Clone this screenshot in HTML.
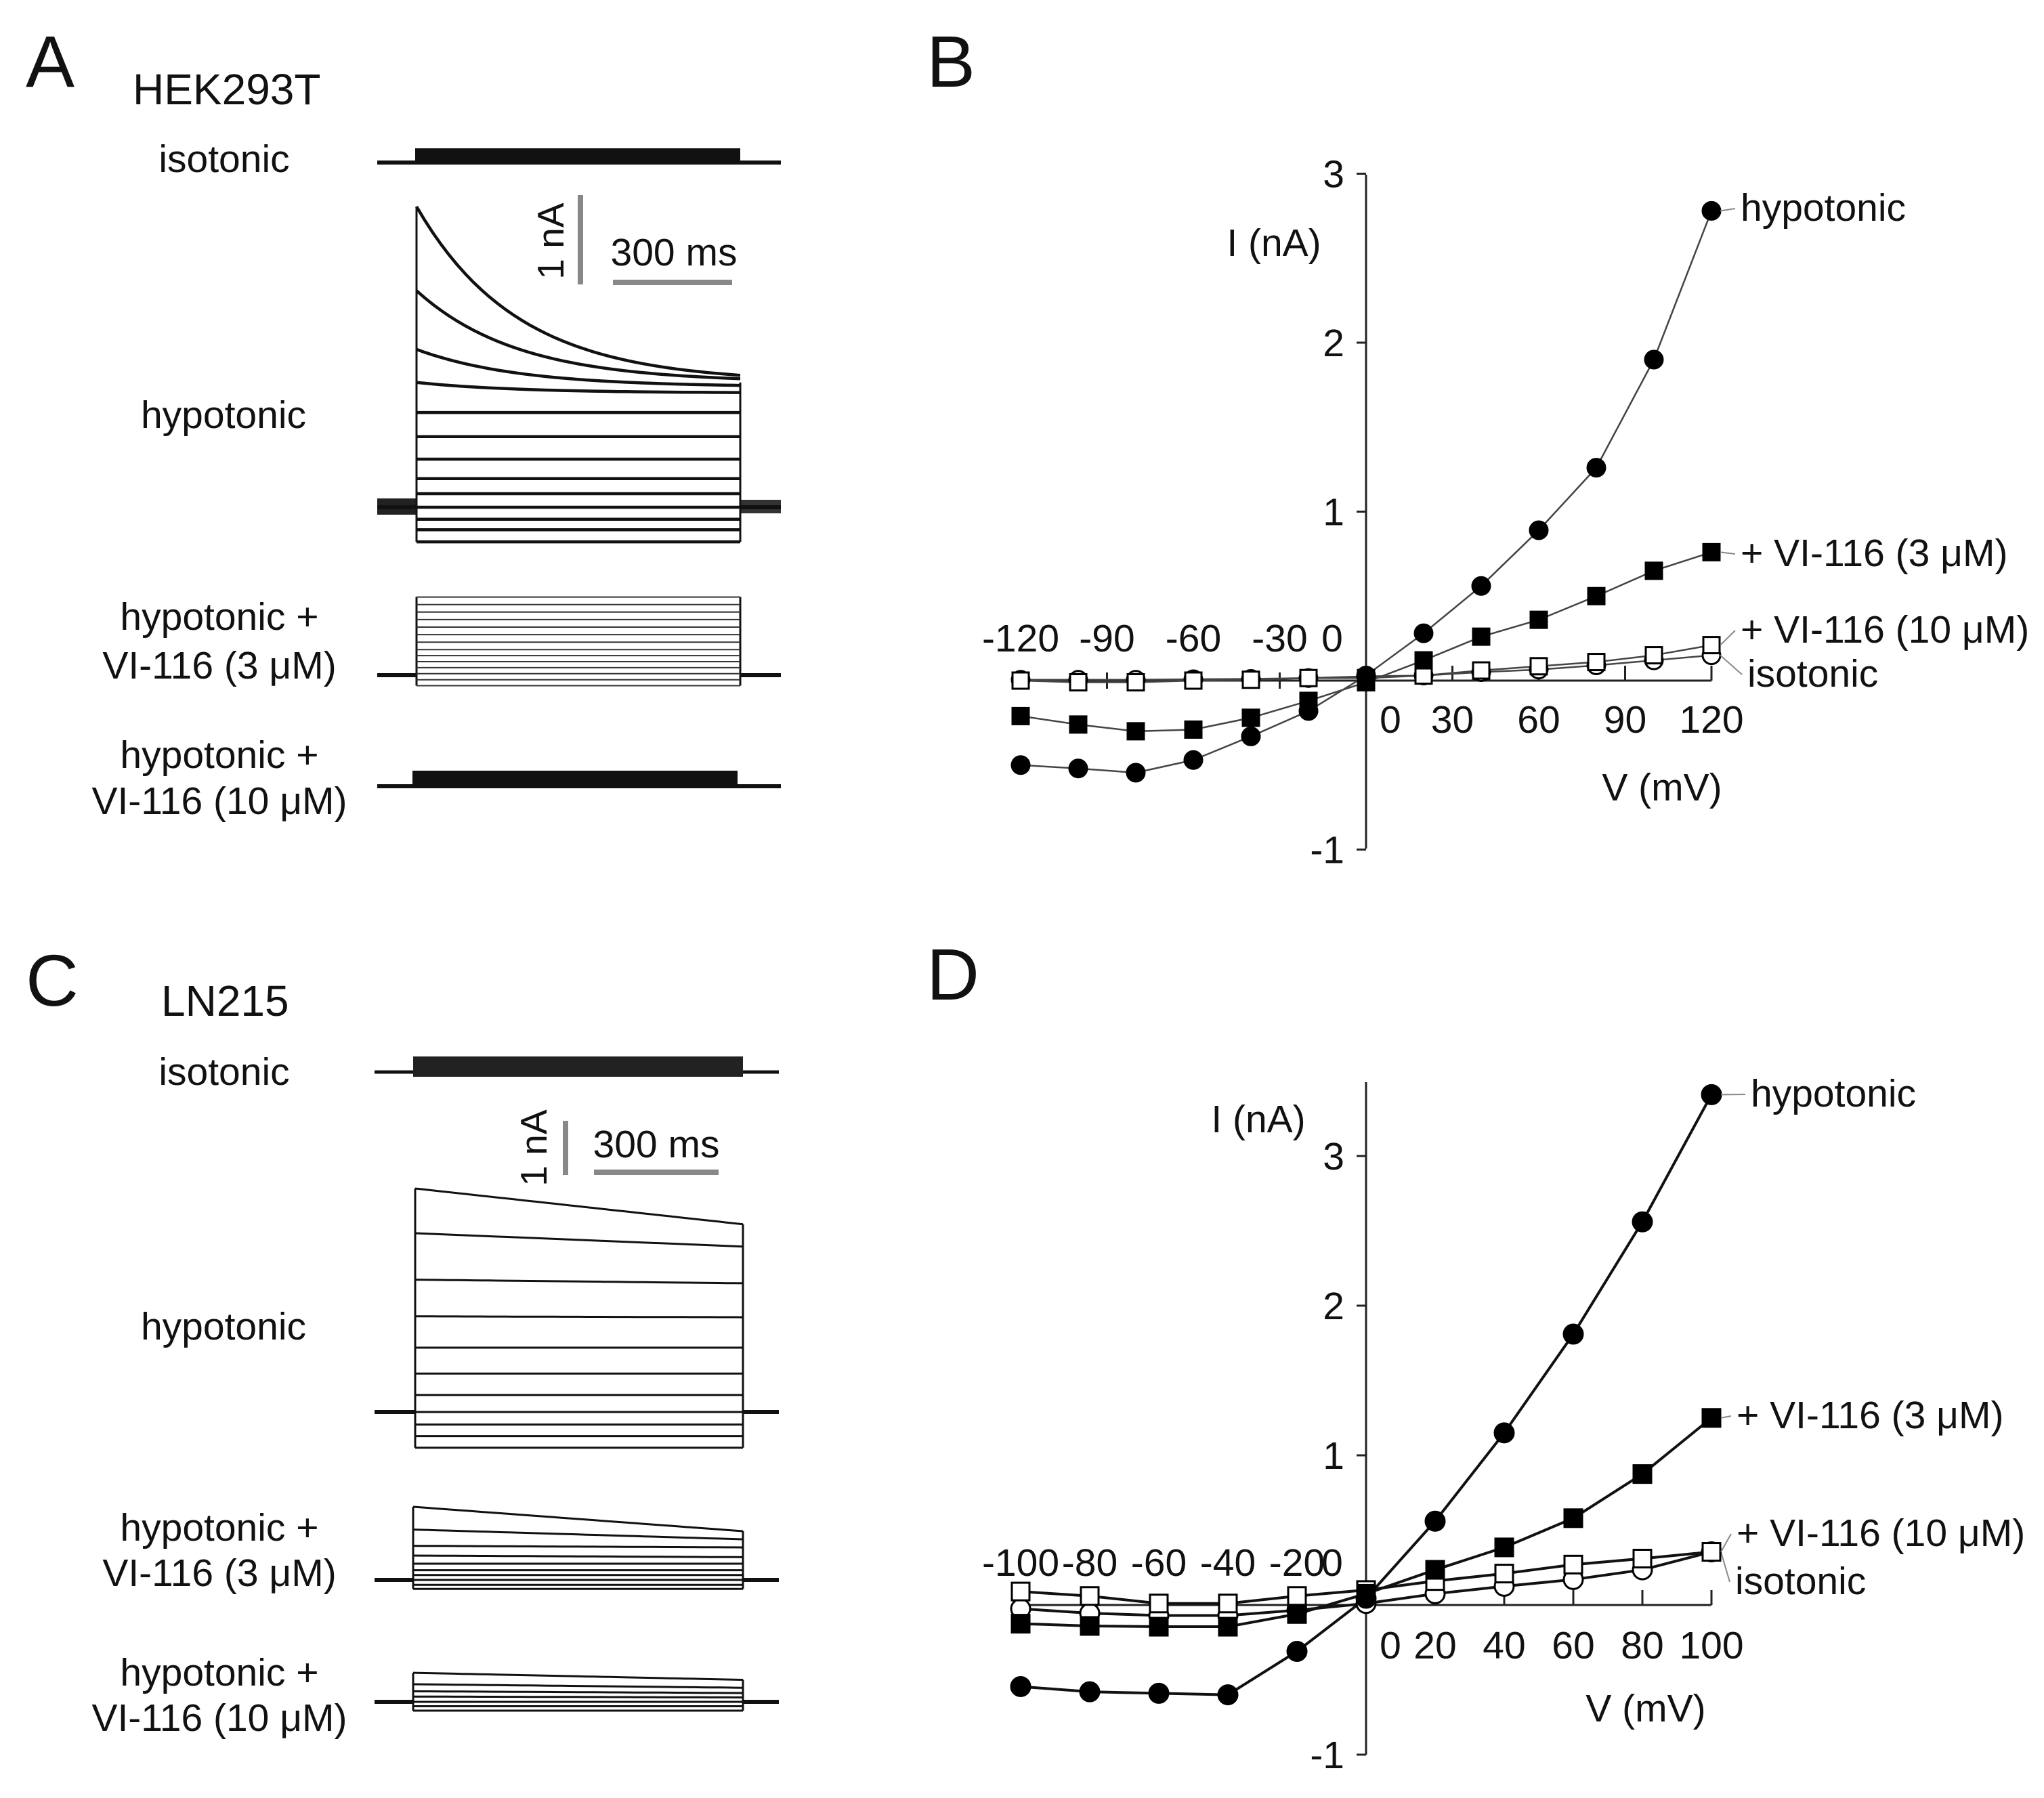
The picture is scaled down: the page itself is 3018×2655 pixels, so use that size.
<!DOCTYPE html>
<html><head><meta charset="utf-8"><style>
html,body{margin:0;padding:0;background:#fff}
svg{display:block}
text{font-family:"Liberation Sans",Arial,sans-serif;fill:#111}
</style></head><body>
<svg id="fig" width="3018" height="2655" viewBox="0 0 3018 2655" xmlns="http://www.w3.org/2000/svg">
<g id="panelA">
<text x="38" y="128" font-size="108">A</text>
<text x="196" y="154" font-size="64">HEK293T</text>
<text x="331" y="254" font-size="57" text-anchor="middle">isotonic</text>
<text x="330" y="632" font-size="57" text-anchor="middle">hypotonic</text>
<text x="324" y="930" font-size="57" text-anchor="middle">hypotonic +</text>
<text x="324" y="1002" font-size="57" text-anchor="middle">VI-116 (3 μM)</text>
<text x="324" y="1134" font-size="57" text-anchor="middle">hypotonic +</text>
<text x="324" y="1202" font-size="57" text-anchor="middle">VI-116 (10 μM)</text>
<line x1="857" y1="288" x2="857" y2="420" stroke="#888" stroke-width="8"/>
<line x1="905" y1="417" x2="1081" y2="417" stroke="#888" stroke-width="8"/>
<text x="0" y="0" font-size="55" text-anchor="middle" transform="translate(832,356) rotate(-90)">1 nA</text>
<text x="995" y="392" font-size="57" text-anchor="middle">300 ms</text>
</g>
<g id="panelC">
<text x="38" y="1485" font-size="108">C</text>
<text x="238" y="1500" font-size="64">LN215</text>
<text x="331" y="1602" font-size="57" text-anchor="middle">isotonic</text>
<text x="330" y="1978" font-size="57" text-anchor="middle">hypotonic</text>
<text x="324" y="2275" font-size="57" text-anchor="middle">hypotonic +</text>
<text x="324" y="2342" font-size="57" text-anchor="middle">VI-116 (3 μM)</text>
<text x="324" y="2489" font-size="57" text-anchor="middle">hypotonic +</text>
<text x="324" y="2556" font-size="57" text-anchor="middle">VI-116 (10 μM)</text>
<line x1="835" y1="1655" x2="835" y2="1735" stroke="#888" stroke-width="8"/>
<line x1="877" y1="1731" x2="1061" y2="1731" stroke="#888" stroke-width="8"/>
<text x="0" y="0" font-size="55" text-anchor="middle" transform="translate(807,1695) rotate(-90)">1 nA</text>
<text x="969" y="1709" font-size="57" text-anchor="middle">300 ms</text>
</g>
<g id="panelB">
<text x="1368" y="128" font-size="108">B</text>
</g>
<g id="panelD">
<text x="1368" y="1476" font-size="108">D</text>
</g>
</svg>
<script>
// ---------- Panel B data (HEK293T) ----------
const voltsB = [-120,-100,-80,-60,-40,-20,0,20,40,60,80,100,120];
const hypoB = [-0.50,-0.52,-0.545,-0.47,-0.33,-0.18,0.03,0.28,0.56,0.89,1.26,1.90,2.78];
const vi3B = [-0.21,-0.26,-0.30,-0.29,-0.22,-0.12,-0.01,0.12,0.26,0.36,0.50,0.65,0.76];
const vi10B = [0,-0.01,-0.01,0,0.005,0.015,0.015,0.03,0.06,0.085,0.11,0.15,0.21];
const isoB = [0.005,0.005,0.005,0.008,0.01,0.015,0.025,0.03,0.05,0.065,0.09,0.12,0.15];
const xTickNegB = [-120,-90,-60,-30];
const xTickPosB = [30,60,90,120];
const yTicksB = [3,2,1,-1];
// ---------- Panel D data (LN215) ----------
const voltsD = [-100,-80,-60,-40,-20,0,20,40,60,80,100];
const hypoD = [-0.545,-0.58,-0.59,-0.60,-0.31,0.045,0.56,1.15,1.81,2.56,3.41];
const vi3D = [-0.125,-0.14,-0.145,-0.145,-0.06,0.075,0.235,0.385,0.58,0.875,1.25];
const vi10D = [0.09,0.06,0.01,0.01,0.06,0.10,0.16,0.21,0.27,0.31,0.355];
const isoD = [-0.025,-0.055,-0.07,-0.07,-0.035,0.01,0.075,0.125,0.17,0.235,0.355];
const xTickNegD = [-100,-80,-60,-40,-20];
const xTickPosD = [20,40,60,80,100];
const yTicksD = [3,2,1,-1];
// ---------- Trace panels (level values in nA relative to holding) ----------
const hypoA_start = [2.0,1.44,1.05,0.83,0.63,0.47,0.32,0.19,0.09,0,-0.08,-0.15,-0.23];
const hypoA_end   = [0.83,0.83,0.80,0.76,0.63,0.47,0.32,0.19,0.09,0,-0.08,-0.15,-0.23];
const vi3A_levels = [0.52,0.47,0.42,0.37,0.32,0.27,0.22,0.17,0.13,0.09,0.05,0.01,-0.03,-0.07];
const hypoC_start = [2.5,2.0,1.48,1.07,0.72,0.43,0.19,0,-0.14,-0.27,-0.40];
const hypoC_end   = [2.1,1.85,1.44,1.06,0.72,0.43,0.19,0,-0.14,-0.27,-0.40];
const vi3C_start = [0.90,0.62,0.42,0.30,0.20,0.12,0.06,0,-0.06,-0.11];
const vi3C_end   = [0.60,0.50,0.40,0.28,0.20,0.12,0.06,0,-0.06,-0.11];
const vi10C_start = [0.33,0.20,0.12,0.06,0,-0.05,-0.10];
const vi10C_end   = [0.25,0.16,0.10,0.05,0,-0.05,-0.10];

const NS = 'http://www.w3.org/2000/svg';
const svg = document.getElementById('fig');
function mk(tag, attrs, parent){
  const e = document.createElementNS(NS, tag);
  for (const k in attrs) e.setAttribute(k, attrs[k]);
  (parent||svg).appendChild(e);
  return e;
}
const FS = 57;

function ivPanel(gid, cfg){
  const g = document.getElementById(gid);
  const xs = v => cfg.x0 + v*cfg.pxPerMv;
  const ys = i => cfg.y0 - i*cfg.pxPerNa;
  let e;
  e = mk('line',{x1:cfg.x0,y1:cfg.axTop,x2:cfg.x0,y2:cfg.axBot,stroke:'#222','stroke-width':3},g);
  
  
  e = mk('line',{x1:xs(cfg.xMin),y1:cfg.y0,x2:xs(cfg.xMax),y2:cfg.y0,stroke:'#222','stroke-width':3},g);
  
  
  cfg.yTicks.forEach(t=>{
    e = mk('line',{x1:cfg.x0-14,y1:ys(t),x2:cfg.x0,y2:ys(t),stroke:'#222','stroke-width':3},g);
    
    
    e = mk('text',{x:cfg.x0-32,y:ys(t)+20,'font-size':FS,'text-anchor':'end'},g);
    e.textContent = String(t);
    
    
  });
  cfg.xNeg.forEach(t=>{
    e = mk('line',{x1:xs(t),y1:cfg.y0-12,x2:xs(t),y2:cfg.y0+12,stroke:'#222','stroke-width':3},g);
    
    
    e = mk('text',{x:xs(t)+cfg.negOff,y:cfg.negLabelY,'font-size':FS,'text-anchor':'middle'},g);
    e.textContent = String(t);
    
    
  });
  cfg.xPos.forEach(t=>{
    e = mk('line',{x1:xs(t),y1:cfg.y0-22,x2:xs(t),y2:cfg.y0,stroke:'#222','stroke-width':3},g);
    
    
    e = mk('text',{x:xs(t)+cfg.posOff,y:cfg.posLabelY,'font-size':FS,'text-anchor':'middle'},g);
    e.textContent = String(t);
    
    
  });
  e = mk('text',{x:cfg.x0-50,y:cfg.negLabelY,'font-size':FS,'text-anchor':'middle'},g);
  e.textContent='0';
  
  
  e = mk('text',{x:cfg.x0+36,y:cfg.posLabelY,'font-size':FS,'text-anchor':'middle'},g);
  e.textContent='0';
  
  
  e = mk('text',{x:cfg.yTitleX,y:cfg.yTitleY,'font-size':FS,'text-anchor':'middle'},g);
  e.textContent='I (nA)';
  
  
  e = mk('text',{x:cfg.xTitleX,y:cfg.xTitleY,'font-size':FS,'text-anchor':'middle'},g);
  e.textContent='V (mV)';
  
  

  cfg.series.forEach(s=>{
    const pts = cfg.volts.map((v,i)=>xs(v)+','+ys(s.vals[i])).join(' ');
    e = mk('polyline',{points:pts,fill:'none',stroke:cfg.lineColor,'stroke-width':cfg.lw},g);
    
    
  });
  cfg.series.forEach(s=>{
    cfg.volts.forEach((v,i)=>{
      const cx=xs(v), cy=ys(s.vals[i]);
      const fill = s.filled ? '#000' : '#fff';
      if (s.shape==='circle'){
        e = mk('circle',{cx:cx,cy:cy,r:cfg.r,fill:fill,stroke:'#000','stroke-width':3},g);
      } else {
        e = mk('rect',{x:cx-cfg.sq/2,y:cy-cfg.sq/2,width:cfg.sq,height:cfg.sq,fill:fill,stroke:'#000','stroke-width':3},g);
      }
      
      
    });
    const last = cfg.volts.length-1;
    const lx = xs(cfg.volts[last]), ly = ys(s.vals[last]);
    e = mk('line',{x1:lx+cfg.r,y1:ly,x2:s.lx-8,y2:s.ly-18,stroke:'#888','stroke-width':2},g);
    
    
    e = mk('text',{x:s.lx,y:s.ly,'font-size':FS},g);
    e.textContent = s.label;
    
    
  });
}

ivPanel('panelB',{x0:2017,y0:1005,pxPerMv:4.25,pxPerNa:249.5,axTop:258,axBot:1253,xMin:-120,xMax:120,
  yTicks:yTicksB,xNeg:xTickNegB,xPos:xTickPosB,negLabelY:962,posLabelY:1082,negOff:0,posOff:0,
  yTitleX:1881,yTitleY:378,xTitleX:2454,xTitleY:1182,volts:voltsB,lineColor:'#444',lw:2.5,r:13,sq:24,
  series:[
    {name:'isotonic',vals:isoB,shape:'circle',filled:false,label:'isotonic',lx:2580,ly:1014},
    {name:'vi116-10um',vals:vi10B,shape:'square',filled:false,label:'+ VI-116 (10 μM)',lx:2570,ly:949},
    {name:'vi116-3um',vals:vi3B,shape:'square',filled:true,label:'+ VI-116 (3 μM)',lx:2570,ly:836},
    {name:'hypotonic',vals:hypoB,shape:'circle',filled:true,label:'hypotonic',lx:2570,ly:326}
  ]});
ivPanel('panelD',{x0:2017,y0:2370,pxPerMv:5.1,pxPerNa:221,axTop:1598,axBot:2591,xMin:-100,xMax:100,
  yTicks:yTicksD,xNeg:xTickNegD,xPos:xTickPosD,negLabelY:2327,posLabelY:2449,negOff:0,posOff:0,
  yTitleX:1858,yTitleY:1672,xTitleX:2430,xTitleY:2542,volts:voltsD,lineColor:'#111',lw:4,r:14,sq:26,
  series:[
    {name:'isotonic',vals:isoD,shape:'circle',filled:false,label:'isotonic',lx:2562,ly:2354},
    {name:'vi116-10um',vals:vi10D,shape:'square',filled:false,label:'+ VI-116 (10 μM)',lx:2564,ly:2283},
    {name:'vi116-3um',vals:vi3D,shape:'square',filled:true,label:'+ VI-116 (3 μM)',lx:2564,ly:2109},
    {name:'hypotonic',vals:hypoD,shape:'circle',filled:true,label:'hypotonic',lx:2585,ly:1634}
  ]});

// ---------- Current traces ----------
function traceSet(gid, cfg){
  const g = document.getElementById(gid);
  let e;
  const yv = v => cfg.base - v*cfg.pxPerNa;
  e = mk('line',{x1:cfg.xa,y1:cfg.base,x2:cfg.x1,y2:cfg.base,stroke:'#111','stroke-width':cfg.hw||6},g);
  
  
  e = mk('line',{x1:cfg.x2,y1:cfg.base,x2:cfg.xb,y2:cfg.base,stroke:'#111','stroke-width':cfg.hw||6},g);
  
  
  const top = Math.max(...cfg.start), bot = Math.min(...cfg.start);
  e = mk('line',{x1:cfg.x1,y1:yv(top),x2:cfg.x1,y2:yv(bot),stroke:'#111','stroke-width':3},g);
  
  
  e = mk('line',{x1:cfg.x2,y1:yv(Math.max(...cfg.end)),x2:cfg.x2,y2:yv(Math.min(...cfg.end)),stroke:'#111','stroke-width':3},g);
  
  
  cfg.start.forEach((s,i)=>{
    const en = cfg.end[i];
    let d='';
    const N=40;
    for(let k=0;k<=N;k++){
      const t=k/N;
      const v = cfg.linear ? s+(en-s)*t : en+(s-en)*Math.exp(-t*3.2);
      d += (k?'L':'M')+(cfg.x1+(cfg.x2-cfg.x1)*t).toFixed(1)+','+yv(v).toFixed(1);
    }
    e = mk('path',{d:d,fill:'none',stroke:cfg.color||'#111','stroke-width':cfg.lw},g);
    
    
  });
}
// Panel A
(function(){
  const g=document.getElementById('panelA');
  let e=mk('line',{x1:557,y1:240,x2:1153,y2:240,stroke:'#111','stroke-width':6},g);
  
  
  e=mk('rect',{x:613,y:219,width:480,height:22,fill:'#111'},g);
  
  
  e=mk('line',{x1:557,y1:1161,x2:1153,y2:1161,stroke:'#111','stroke-width':6},g);
  
  
  e=mk('rect',{x:609,y:1138,width:480,height:24,fill:'#111'},g);
  
  
  e=mk('rect',{x:557,y:736,width:58,height:24,fill:'#222'},g);
  
  
  e=mk('rect',{x:1093,y:738,width:60,height:20,fill:'#333'},g);
  
  
})();
traceSet('panelA',{base:749,pxPerNa:222,xa:557,x1:615,x2:1093,xb:1153,start:hypoA_start,end:hypoA_end,lw:4.5});
traceSet('panelA',{base:997,pxPerNa:222,xa:557,x1:615,x2:1093,xb:1153,start:vi3A_levels,end:vi3A_levels,lw:2,linear:true,color:'#333'});
// Panel C
(function(){
  const g=document.getElementById('panelC');
  let e=mk('line',{x1:553,y1:1583,x2:1150,y2:1583,stroke:'#111','stroke-width':5},g);
  
  
  e=mk('rect',{x:610,y:1560,width:487,height:30,fill:'#222'},g);
  
  
})();
traceSet('panelC',{base:2085,pxPerNa:132,xa:553,x1:613,x2:1097,xb:1150,start:hypoC_start,end:hypoC_end,lw:3,linear:true});
traceSet('panelC',{base:2333,pxPerNa:120,xa:553,x1:610,x2:1097,xb:1150,start:vi3C_start,end:vi3C_end,lw:3,linear:true});
traceSet('panelC',{base:2513,pxPerNa:130,xa:553,x1:610,x2:1097,xb:1150,start:vi10C_start,end:vi10C_end,lw:3,linear:true});
</script>
</body></html>
